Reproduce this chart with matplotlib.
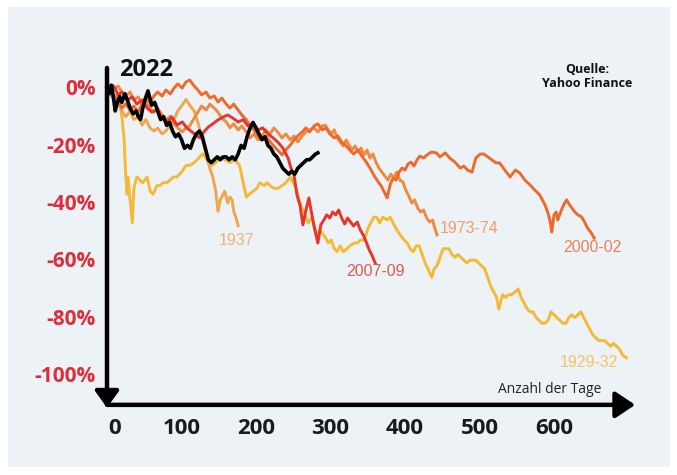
import matplotlib
matplotlib.use("Agg")
import matplotlib.pyplot as plt
from matplotlib.patches import Rectangle

plt.rcParams["font.family"] = ["Open Sans", "DejaVu Sans"]

# ==========================================
# Daten: Tage seit Hoch / Drawdown in %
# ==========================================
days_1929 = [0, 4, 8, 12, 16, 20, 23, 25, 27, 28, 31, 34, 36, 40, 44, 48, 54, 58, 62, 67,
             71, 75, 80, 85, 89, 94, 101, 106, 111, 117, 121, 128, 132, 136, 141, 146, 152, 158, 165, 172,
             178, 182, 187, 191, 196, 201, 205, 211, 215, 219, 224, 229, 235, 240, 246, 250, 254, 258, 262, 266,
             270, 275, 279, 283, 287, 293, 297, 301, 305, 309, 313, 317, 322, 326, 332, 336, 340, 344, 348, 350,
             354, 358, 362, 366, 370, 376, 380, 384, 388, 393, 399, 403, 407, 411, 415, 419, 423, 427, 431, 434,
             436, 439, 443, 447, 451, 455, 459, 463, 467, 471, 475, 479, 483, 487, 491, 495, 499, 503, 507, 511,
             515, 519, 523, 526, 529, 531, 535, 539, 543, 548, 552, 556, 560, 564, 568, 572, 576, 580, 584, 588,
             592, 596, 600, 604, 608, 612, 616, 620, 624, 628, 632, 636, 640, 644, 648, 652, 656, 660, 664, 668,
             672, 676, 680, 684, 688, 692, 697]
pct_1929 = [0, -1.4, -3, -5, -4, -10, -18, -30, -37, -31, -39, -47, -35, -31, -32, -33, -31, -36, -37, -34,
            -34, -33, -33, -32, -31, -31, -29, -27, -27, -26, -25, -23, -24, -26, -27, -26, -24, -25, -26, -25,
            -27, -32, -38, -37, -36, -35, -33, -34, -33, -34, -35, -35, -34, -33, -31, -33, -35, -39, -42, -44,
            -47, -45, -49, -51, -50, -52, -54, -53, -56, -57, -55, -57, -56, -55, -54, -54, -53, -53, -51, -49,
            -47, -45, -45, -47, -45, -46, -45, -47, -49, -51, -53, -54, -56, -57, -55, -55, -58, -61, -63, -65,
            -66, -63, -62, -59, -56, -56, -56, -58, -59, -58, -59, -60, -61, -60, -60, -60, -61, -62, -63, -66,
            -69, -71, -73, -77, -74, -72, -73, -72, -72, -71, -70, -73, -75, -77, -78, -78, -80, -81, -82, -82,
            -81, -78, -79, -80, -81, -82, -82, -80, -79, -80, -79, -78, -80, -82, -84, -86, -87, -88, -88, -88,
            -89, -90, -89, -90, -91, -93, -94]

days_1937 = [0, 4, 8, 12, 16, 20, 25, 31, 36, 42, 47, 52, 58, 63, 68, 74, 79, 85, 90, 95,
             101, 106, 111, 117, 122, 126, 130, 134, 138, 142, 146, 149, 152, 154, 158, 162, 165, 168, 170, 173,
             176]
pct_1937 = [0, -2, -3.5, -2.4, -6, -8, -10, -8, -11, -10, -13, -11, -14, -15, -14, -16, -15, -13, -11, -8,
            -6, -4, -6, -8, -12, -16, -20, -24, -28, -31, -36, -43, -39, -38, -36, -40, -38, -39, -43, -45,
            -48]

days_1973 = [0, 4, 9, 15, 20, 25, 31, 36, 42, 47, 52, 58, 63, 68, 74, 79, 85, 90, 95, 101,
             106, 111, 117, 122, 127, 133, 138, 144, 149, 154, 160, 165, 170, 176, 181, 187, 192, 197, 203, 208,
             213, 219, 224, 229, 235, 240, 246, 251, 256, 262, 267, 272, 278, 283, 289, 293, 297, 301, 305, 309,
             313, 317, 321, 325, 329, 333, 337, 341, 345, 349, 353, 357, 361, 365, 369, 373, 377, 381, 385, 389,
             393, 397, 401, 405, 409, 413, 417, 421, 425, 429, 433, 437, 440, 443]
pct_1973 = [0, 1.0, -0.7, 0.7, -1.4, -2.8, -1.4, -4.2, -3.1, -5.6, -4.5, -7.0, -8.4, -7.0, -9.4, -11.1, -9.8, -12.5, -13.9, -15.3,
            -13.9, -13.2, -10.5, -8.4, -6.3, -7.7, -5.6, -7.0, -8.4, -10.5, -11.8, -13.9, -12.5, -14.6, -13.2, -15.3, -17.4, -16.0, -18.1, -16.7,
            -14.6, -16.0, -13.9, -15.3, -17.4, -16.0, -18.1, -16.7, -18.8, -16.7, -15.3, -14.6, -13.9, -15.3, -13.2, -12.9, -14.6, -16.0, -14.6, -17.4,
            -18.8, -20.2, -18.1, -19.9, -21.6, -20.2, -22.3, -20.9, -23.3, -21.6, -24.4, -23.0, -25.8, -27.9, -29.3, -30.7, -32.1, -30.0, -31.4, -29.3,
            -32.1, -32.7, -35.5, -37.6, -40.1, -39.0, -41.8, -43.2, -42.5, -45.3, -46.7, -46.0, -48.8, -51.2]

days_2000 = [0, 4, 9, 15, 20, 25, 31, 36, 42, 47, 52, 58, 63, 68, 74, 79, 85, 90, 95, 101,
             106, 111, 117, 122, 127, 133, 138, 144, 149, 154, 160, 165, 170, 176, 181, 187, 192, 197, 203, 208,
             213, 219, 224, 229, 235, 240, 246, 251, 256, 262, 267, 272, 278, 283, 289, 294, 299, 305, 310, 315,
             321, 326, 331, 337, 342, 348, 353, 358, 364, 368, 372, 376, 380, 384, 388, 392, 396, 400, 404, 408,
             412, 416, 420, 425, 431, 436, 442, 447, 454, 460, 467, 474, 479, 484, 490, 495, 501, 506, 511, 517,
             522, 527, 534, 541, 548, 554, 561, 568, 574, 581, 588, 592, 595, 597, 600, 603, 605, 608, 611, 615,
             617, 621, 624, 628, 632, 637, 641, 645, 650, 654]
pct_2000 = [0, -0.7, -2.8, -4.2, -7.0, -5.6, -7.7, -6.3, -8.4, -5.6, -3.5, -4.9, -2.8, -1.4, -2.8, -0.7, -2.1, 0, 1.4, 0,
            2.1, 2.8, 0.7, -0.7, -2.4, -1.4, -3.5, -2.8, -4.9, -3.5, -5.6, -7.0, -5.6, -7.7, -9.4, -11.1, -13.2, -14.6, -16.7, -18.1,
            -16.7, -18.8, -20.2, -21.6, -23.3, -21.6, -19.9, -18.1, -16.7, -15.3, -13.9, -15.3, -13.2, -12.5, -14.6, -13.9, -16.0, -17.4, -16.7, -18.8,
            -20.2, -21.6, -23.0, -21.6, -23.7, -25.8, -27.9, -30.3, -32.7, -34.1, -36.2, -38.3, -33.8, -31.4, -32.1, -29.3, -27.9, -28.6, -26.5, -25.8,
            -27.2, -25.1, -23.7, -24.4, -23.0, -22.3, -22.6, -24.0, -22.6, -24.4, -25.8, -27.9, -27.2, -28.6, -29.3, -24.4, -23.0, -23.0, -24.0, -25.1,
            -26.1, -26.1, -28.6, -31.0, -28.6, -29.6, -32.1, -33.8, -35.5, -37.3, -40.8, -43.6, -46.7, -50.2, -44.2, -43.2, -46.0, -43.9, -41.8, -39.7,
            -39.0, -40.8, -41.8, -43.2, -44.2, -44.9, -46.7, -48.8, -50.5, -52.3]

days_2007 = [0, 4, 9, 15, 20, 27, 34, 40, 47, 54, 60, 67, 74, 81, 87, 94, 101, 107, 114, 121,
             125, 130, 136, 142, 149, 156, 162, 169, 176, 183, 189, 196, 203, 209, 216, 223, 229, 236, 243, 247,
             251, 255, 259, 263, 267, 271, 275, 279, 283, 287, 291, 295, 299, 303, 307, 311, 315, 319, 323, 327,
             331, 336, 340, 344, 348, 352, 356, 360]
pct_2007 = [0, -1.4, 0.7, -2.4, -1.4, -4.2, -3.1, -5.6, -4.2, -7.0, -8.4, -7.7, -10.5, -11.8, -10.1, -12.9, -11.8, -13.9, -15.3, -16.7,
            -17.4, -15.3, -13.6, -12.5, -11.1, -10.1, -9.4, -10.5, -11.8, -11.1, -13.2, -12.2, -14.6, -13.9, -16.0, -17.4, -18.8, -20.9, -24.4, -27.9,
            -30.3, -37.3, -40.8, -47.7, -42.5, -38.3, -44.2, -49.5, -54.0, -47.7, -46.0, -44.2, -45.3, -43.2, -44.2, -42.5, -45.3, -47.4, -45.3, -46.7,
            -48.1, -46.7, -49.5, -51.2, -53.7, -56.4, -58.5, -61.0]

days_2022 = [0, 3, 6, 9, 11, 14, 17, 20, 24, 27, 31, 35, 39, 42, 45, 48, 51, 55, 57, 60,
             64, 68, 72, 76, 80, 84, 88, 92, 96, 100, 104, 108, 112, 116, 120, 124, 128, 132, 136, 140,
             144, 148, 152, 156, 160, 164, 168, 172, 176, 180, 184, 188, 192, 196, 200, 204, 208, 212, 216, 220,
             224, 228, 232, 236, 240, 244, 248, 252, 256, 260, 264, 268, 272, 276, 280, 283]
pct_2022 = [0, -2, 1, -4, -8, -5, -3, -5, -2, -4, -7, -9, -8, -10, -11, -7, -4, -1, -3, -6,
            -5, -8, -11, -10, -13, -12, -15, -17, -16, -18, -21, -20, -21, -18, -16, -15, -17, -21, -25, -26,
            -25, -24, -25, -24, -24, -25, -24, -25, -23, -20, -21, -17, -14, -12, -14, -16, -18, -17, -20, -21,
            -23, -24, -26, -28, -29, -30, -29, -30, -28, -27, -26, -25, -25, -24, -23, -22.6]

series = [
    ("1929-32", days_1929, pct_1929, "#f5b935", "#f4c463", (647, -95.5)),
    ("1937", days_1937, pct_1937, "#f2a64c", "#f0b277", (174, -53)),
    ("1973-74", days_1973, pct_1973, "#f08a3e", "#f09d68", (486, -48.8)),
    ("2000-02", days_2000, pct_2000, "#ee6a2c", "#ec8058", (651, -55.7)),
    ("2007-09", days_2007, pct_2007, "#e6352b", "#e05a55", (360, -64.1)),
]

y_ticks = [0, -20, -40, -60, -80, -100]
x_ticks = [0, 100, 200, 300, 400, 500, 600]

# Layout (Pixel-Zuordnung des Originals)
W, H, DPI = 677, 475, 100
X0_PX, PX_PER_DAY = 107, 0.745
Y0_PX, PX_PER_PCT = 88, 2.87

fig = plt.figure(figsize=(W / DPI, H / DPI), dpi=DPI)
fig.patch.set_facecolor("white")

ax = fig.add_axes([0, 0, 1, 1])
ax.set_facecolor("none")
ax.set_xlim(-X0_PX / PX_PER_DAY, (W - X0_PX) / PX_PER_DAY)
ax.set_ylim(-(H - Y0_PX) / PX_PER_PCT, Y0_PX / PX_PER_PCT)
ax.axis("off")

# hellgrauer Hintergrund-Kasten
ax.add_patch(Rectangle((8 / W, 8 / H), 662 / W, 460 / H, transform=fig.transFigure,
                       facecolor="#ecf2f5", edgecolor="none", zorder=0))

for name, d, p, col, lab_col, (lx, ly) in series:
    ax.plot(d, p, color=col, lw=2.1, solid_joinstyle="round", zorder=3)
    ax.text(lx, ly, name, color=lab_col, fontsize=11.5, family="Liberation Sans",
            ha="center", va="center", zorder=4)

ax.plot(days_2022, pct_2022, color="black", lw=2.6, solid_joinstyle="round", zorder=5)
ax.text(16, 6.3, "2022", fontsize=17, fontweight="bold", ha="left", va="center", color="#111111")

# Achsen mit Pfeilen
ax.annotate("", xy=(0, -111.4), xytext=(0, 7),
            arrowprops=dict(arrowstyle="-|>,head_length=0.5,head_width=0.36", lw=3.2,
                            color="black", shrinkA=0, shrinkB=0, mutation_scale=20), zorder=6)
ax.annotate("", xy=(709, -110.4), xytext=(0, -110.4),
            arrowprops=dict(arrowstyle="-|>,head_length=0.6,head_width=0.4", lw=3.2,
                            color="black", shrinkA=0, shrinkB=0, mutation_scale=20), zorder=6)

for v in y_ticks:
    ax.text(-14.8, v - 0.6, f"-{abs(v)}%" if v else "0%", color="#dc2f3a", fontsize=15,
            fontweight="bold", ha="right", va="center")
for v in x_ticks:
    ax.text(v if v else 10, -118.6, str(v), color="#1a1a1a", fontsize=16,
            fontweight="bold", ha="center", va="center")

ax.text(525, -104.9, "Anzahl der Tage", fontsize=10, color="#222222", ha="left", va="center")
ax.text(645, 6.6, "Quelle:", fontsize=9, fontweight="bold", color="#111111", ha="center", va="center")
ax.text(645, 1.7, "Yahoo Finance", fontsize=9, fontweight="bold", color="#111111", ha="center", va="center")

fig.savefig("out.png", dpi=DPI)
